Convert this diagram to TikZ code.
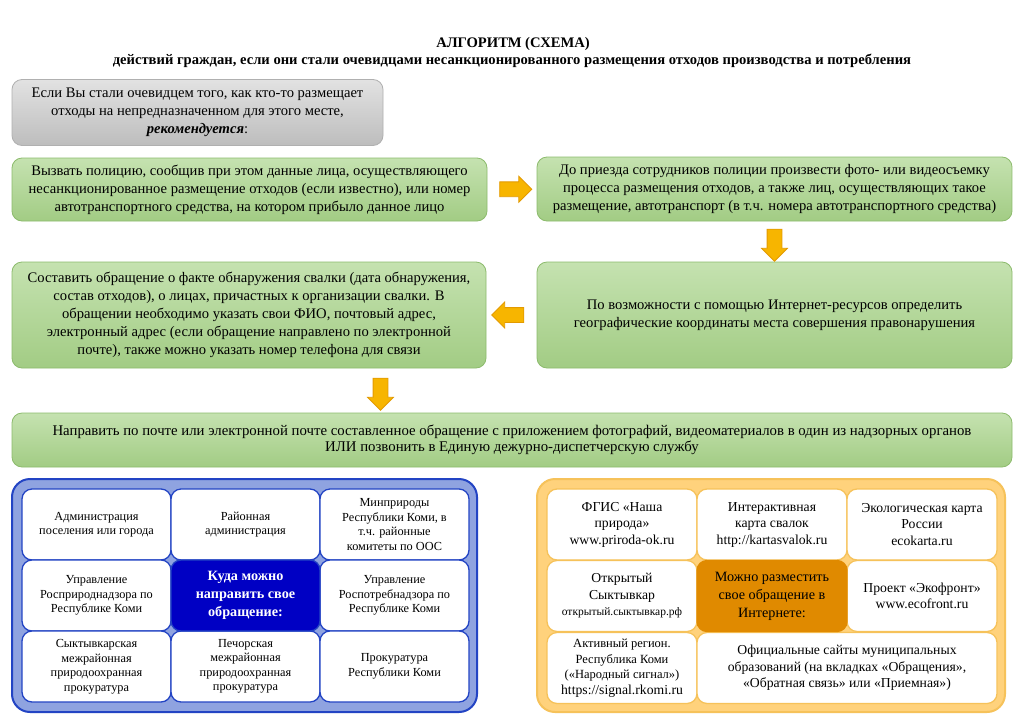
\documentclass[tikz,border=0pt]{standalone}
\usepackage{fontspec}
\setmainfont{Liberation Serif}
\usetikzlibrary{shapes.arrows,calc}
\definecolor{greentop}{HTML}{C5E2B0}
\definecolor{greenbot}{HTML}{A2CC84}
\definecolor{greenline}{HTML}{8CBB6C}
\definecolor{graytop}{HTML}{E2E2E2}
\definecolor{graybot}{HTML}{BDBDBD}
\definecolor{grayline}{HTML}{B0B0B0}
\definecolor{arrowfill}{HTML}{F7B500}
\definecolor{arrowline}{HTML}{E39A00}
\definecolor{bluebg}{HTML}{8FA3E0}
\definecolor{blueline}{HTML}{2344C4}
\definecolor{bluedark}{HTML}{0000C4}
\definecolor{orangebg}{HTML}{FFD27C}
\definecolor{orangeline}{HTML}{F6C25A}
\definecolor{orangedark}{HTML}{E08A00}
\begin{document}
\begin{tikzpicture}[x=1pt,y=-1pt,
    box/.style={draw=greenline,line width=0.8pt,rounded corners=10pt,
      top color=greentop,bottom color=greenbot,align=center,inner sep=0pt,
      font=\fontsize{14.6}{18}\selectfont},
    graybox/.style={box,draw=grayline,top color=graytop,bottom color=graybot},
    blockarrow/.style={single arrow,draw=arrowline,fill=arrowfill,line width=0.8pt,
      minimum height=32pt,minimum width=25pt,single arrow head extend=5.5pt,inner sep=7pt},
    panel/.style={rounded corners=18pt,line width=2pt,minimum height=233pt},
    cell/.style={draw=blueline,fill=white,line width=1.3pt,rounded corners=10pt,
      minimum width=149pt,minimum height=71pt,align=center,inner sep=0pt,
      font=\fontsize{12.3}{14.5}\selectfont},
    ocell/.style={cell,draw=orangeline,minimum width=150pt,
      font=\fontsize{13.7}{16.5}\selectfont}
]
\useasboundingbox (0,0) rectangle (1024,723);
\fill[white] (0,0) rectangle (1024,723);

% title
\node[font=\bfseries\fontsize{14.6}{16}\selectfont] (title) at (513,44) {АЛГОРИТМ (СХЕМА)};
\node[font=\bfseries\fontsize{14.6}{16}\selectfont] (subtitle) at (512,61)
  {действий граждан, если они стали очевидцами несанкционированного размещения отходов производства и потребления};

% steps
\node[graybox,minimum width=371pt,minimum height=66pt] (start) at (197.5,112.5)
  {Если Вы стали очевидцем того, как кто-то размещает\\отходы на непредназначенном для этого месте,\\\textbf{\textit{рекомендуется}}:};
\node[box,minimum width=475pt,minimum height=63pt] (police) at (249.5,189.5)
  {Вызвать полицию, сообщив при этом данные лица, осуществляющего\\несанкционированное размещение отходов (если известно), или номер\\автотранспортного средства, на котором прибыло данное лицо};
\node[box,minimum width=475pt,minimum height=64pt] (photo) at (774.5,189)
  {До приезда сотрудников полиции произвести фото- или видеосъемку\\процесса размещения отходов, а также лиц, осуществляющих такое\\размещение, автотранспорт (в т.ч. номера автотранспортного средства)};
\node[box,minimum width=475pt,minimum height=106pt] (coords) at (774.5,315)
  {По возможности с помощью Интернет-ресурсов определить\\географические координаты места совершения правонарушения};
\node[box,minimum width=474pt,minimum height=106pt] (letter) at (249,315)
  {Составить обращение о факте обнаружения свалки (дата обнаружения,\\состав отходов), о лицах, причастных к организации свалки. В\\обращении необходимо указать свои ФИО, почтовый адрес,\\электронный адрес (если обращение направлено по электронной\\почте), также можно указать номер телефона для связи};
\node[box,minimum width=1000pt,minimum height=54pt,font=\fontsize{14.8}{16}\selectfont] (send) at (512,440)
  {Направить по почте или электронной почте составленное обращение с приложением фотографий, видеоматериалов в один из надзорных органов\\ИЛИ позвонить в Единую дежурно-диспетчерскую службу};

% arrows between steps
\node[blockarrow] (a1) at ($(police.east)!0.5!(photo.west)$) {};
\node[blockarrow,shape border rotate=270] (a2) at ($(photo.south)!0.5!(coords.north)$) {};
\node[blockarrow,shape border rotate=180] (a3) at ($(coords.west)!0.5!(letter.east)$) {};
\node[blockarrow,shape border rotate=270] (a4) at ($(letter.south)!0.5!(send.north)$) {};

% where to send
\node[panel,draw=blueline,fill=bluebg,minimum width=465pt] (bluepanel) at (244.5,595.5) {};
\node[cell] (b11) at (96.5,524.5) {Администрация\\поселения или города};
\node[cell] (b12) at (245.5,524.5) {Районная\\администрация};
\node[cell] (b13) at (394.5,524.5) {Минприроды\\Республики Коми, в\\т.ч. районные\\комитеты по ООС};
\node[cell] (b21) at (96.5,595.5) {Управление\\Росприроднадзора по\\Республике Коми};
\node[cell] (b23) at (394.5,595.5) {Управление\\Роспотребнадзора по\\Республике Коми};
\node[cell] (b31) at (96.5,666.5) {Сыктывкарская\\межрайонная\\природоохранная\\прокуратура};
\node[cell] (b32) at (245.5,666.5) {Печорская\\межрайонная\\природоохранная\\прокуратура};
\node[cell] (b33) at (394.5,666.5) {Прокуратура\\Республики Коми};
\node[cell,fill=bluedark,text=white,font=\bfseries\fontsize{14.2}{18}\selectfont] (bwhere) at (245.5,595.5)
  {Куда можно\\направить свое\\обращение:};

% where to post online
\node[panel,draw=orangeline,fill=orangebg,minimum width=468pt] (orangepanel) at (771,595.5) {};
\node[ocell] (o11) at (622,524.5) {ФГИС «Наша\\природа»\\www.priroda-ok.ru};
\node[ocell] (o12) at (772,524.5) {Интерактивная\\карта свалок\\http://kartasvalok.ru};
\node[ocell] (o13) at (922,524.5) {Экологическая карта\\России\\ecokarta.ru};
\node[ocell] (o21) at (622,596) {Открытый\\Сыктывкар\\{\fontsize{11.5}{14}\selectfont открытый.сыктывкар.рф}};
\node[ocell] (o23) at (922,596) {Проект «Экофронт»\\www.ecofront.ru};
\node[ocell,font=\fontsize{12.5}{15.5}\selectfont] (o31) at (622,668)
  {Активный регион.\\Республика Коми\\(«Народный сигнал»)\\{\fontsize{13.7}{16}\selectfont https://signal.rkomi.ru}};
\node[ocell,minimum width=300pt] (o32) at (847,668)
  {Официальные сайты муниципальных\\образований (на вкладках «Обращения»,\\«Обратная связь» или «Приемная»)};
\node[ocell,draw=orangedark,fill=orangedark,font=\fontsize{14.2}{18}\selectfont] (owhere) at (772,596)
  {Можно разместить\\свое обращение в\\Интернете:};
\end{tikzpicture}
\end{document}
